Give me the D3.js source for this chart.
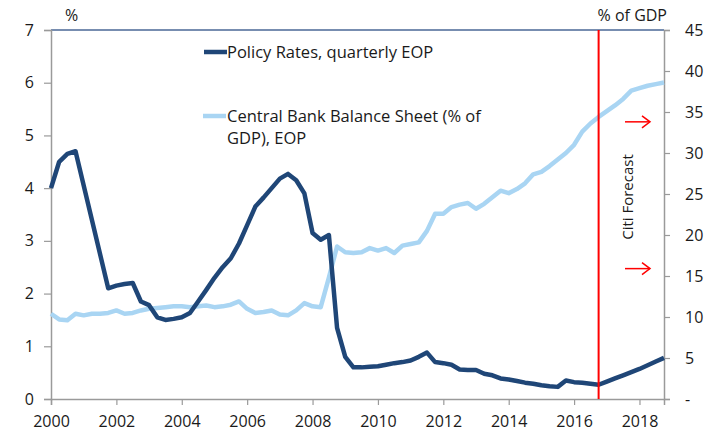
<!DOCTYPE html>
<html>
<head>
<meta charset="utf-8">
<script src="https://cdn.jsdelivr.net/npm/d3@7"></script>
<style>
  html, body { margin: 0; padding: 0; background: #ffffff; }
  svg { display: block; }
  text { font-family: "Open Sans", Lato, sans-serif; fill: #1a1a1a; }
</style>
</head>
<body>
<svg id="chart" width="713" height="434"></svg>
<script>
// Quarterly observations, 2000Q1 .. 2018Q4 (forecast from 2016Q4)
const startYear = 2000;
const quarterCount = 76;

// Policy rate, % (left axis)
const policyRate = [
  4.0, 4.5, 4.65, 4.7, 4.05, 3.4, 2.75, 2.1,
  2.15, 2.18, 2.2, 1.85, 1.78, 1.55, 1.5, 1.52,
  1.55, 1.63, 1.85, 2.07, 2.3, 2.5, 2.67, 2.95,
  3.3, 3.65, 3.82, 4.0, 4.18, 4.27, 4.15, 3.9,
  3.15, 3.02, 3.11, 1.35, 0.8, 0.6, 0.6, 0.61,
  0.62, 0.65, 0.68, 0.7, 0.73, 0.8, 0.88, 0.7,
  0.68, 0.65, 0.56, 0.55, 0.55, 0.48, 0.45, 0.39,
  0.37, 0.34, 0.31, 0.29, 0.26, 0.24, 0.23, 0.35,
  0.32, 0.31, 0.29, 0.27, 0.33, 0.39, 0.45, 0.51,
  0.57, 0.64, 0.71, 0.78
];

// Central bank balance sheet, % of GDP (right axis)
const balanceSheet = [
  10.4, 9.7, 9.6, 10.4, 10.2, 10.4, 10.4, 10.5,
  10.8, 10.4, 10.5, 10.8, 11.0, 11.1, 11.2, 11.3,
  11.3, 11.2, 11.3, 11.4, 11.2, 11.3, 11.5, 11.9,
  11.0, 10.5, 10.6, 10.8, 10.3, 10.2, 10.8, 11.7,
  11.3, 11.2, 14.8, 18.6, 17.9, 17.8, 17.9, 18.4,
  18.1, 18.4, 17.8, 18.7, 18.9, 19.1, 20.5, 22.6,
  22.6, 23.4, 23.7, 23.9, 23.2, 23.8, 24.6, 25.4,
  25.1, 25.6, 26.3, 27.4, 27.7, 28.4, 29.2, 30.0,
  31.0, 32.6, 33.6, 34.4, 35.1, 35.8, 36.6, 37.6,
  37.9, 38.2, 38.4, 38.6
];

const yearTicks = [2000, 2002, 2004, 2006, 2008, 2010, 2012, 2014, 2016, 2018];
const leftTicks = [0, 1, 2, 3, 4, 5, 6, 7];
const rightTicks = [0, 5, 10, 15, 20, 25, 30, 35, 40, 45];
const forecastStart = 67;          // quarter index of 2016Q4
const arrowLevels = [33.8, 15.9];  // right-axis levels of the forecast arrows

const seriesNames = ["Policy Rates, quarterly EOP", "Central Bank Balance Sheet (% of", "GDP), EOP"];

const svg = d3.select("#chart");
const m = { left: 51, right: 664, top: 30, bottom: 399 };

const x = d3.scaleLinear().domain([0, quarterCount - 1]).range([m.left, m.right]);
const yL = d3.scaleLinear().domain([0, 7]).range([m.bottom, m.top]);
const yR = d3.scaleLinear().domain([0, 45]).range([m.bottom, m.top]);

const axisGrey = "#9a9a9a";
const darkBlue = "#1f4677";
const lightBlue = "#a9d5f3";
const font = "'Open Sans', Lato, sans-serif";

// top frame line
svg.append("line")
  .attr("x1", m.left).attr("x2", m.right)
  .attr("y1", m.top).attr("y2", m.top)
  .attr("stroke", "#4a6796").attr("stroke-width", 1.5);

// left axis
const gL = svg.append("g").attr("transform", `translate(${m.left},0)`)
  .call(d3.axisLeft(yL).tickValues(leftTicks).tickSize(7).tickPadding(10).tickFormat(d3.format("d")));
// right axis
const gR = svg.append("g").attr("transform", `translate(${m.right},0)`)
  .call(d3.axisRight(yR).tickValues(rightTicks).tickSize(6).tickPadding(15)
    .tickFormat(d => d === 0 ? "-" : d));
// bottom axis
const gB = svg.append("g").attr("transform", `translate(0,${m.bottom})`)
  .call(d3.axisBottom(x).tickValues(yearTicks.map(yr => (yr - startYear) * 4))
    .tickSize(6).tickPadding(8).tickFormat(i => startYear + i / 4));

[gL, gR, gB].forEach(g => {
  g.selectAll(".domain").attr("stroke", axisGrey).attr("stroke-width", 1.5);
  g.selectAll(".tick line").attr("stroke", axisGrey).attr("stroke-width", 1.2);
  g.selectAll(".tick text").attr("font-size", 16).attr("font-family", font).attr("fill", "#1a1a1a");
});
gB.selectAll(".tick text").attr("dy", "0.85em");
gR.selectAll(".tick text").attr("text-anchor", "start");

// unit labels
svg.append("text").attr("x", 65).attr("y", 21).attr("font-size", 16).text("%");
svg.append("text").attr("x", 667).attr("y", 21).attr("font-size", 16).attr("text-anchor", "end").text("% of GDP");

// series lines
const lineL = d3.line().x((d, i) => x(i)).y(d => yL(d));
const lineR = d3.line().x((d, i) => x(i)).y(d => yR(d));

svg.append("path").datum(balanceSheet)
  .attr("d", lineR).attr("fill", "none")
  .attr("stroke", lightBlue).attr("stroke-width", 4.5).attr("stroke-linejoin", "round");

svg.append("path").datum(policyRate)
  .attr("d", lineL).attr("fill", "none")
  .attr("stroke", darkBlue).attr("stroke-width", 4.5).attr("stroke-linejoin", "round");

// forecast divider
svg.append("line")
  .attr("x1", x(forecastStart)).attr("x2", x(forecastStart))
  .attr("y1", m.top).attr("y2", m.bottom)
  .attr("stroke", "#ff0000").attr("stroke-width", 2);

svg.append("text")
  .attr("transform", `translate(633,197) rotate(-90)`)
  .attr("text-anchor", "middle")
  .attr("font-family", "'Liberation Sans', Arial, sans-serif")
  .attr("font-size", 15).text("Citi Forecast");

// forecast arrows
arrowLevels.forEach(v => {
  const yy = yR(v);
  svg.append("line").attr("x1", 625).attr("x2", 650).attr("y1", yy).attr("y2", yy)
    .attr("stroke", "#ff0000").attr("stroke-width", 1.5);
  svg.append("path").attr("d", `M642,${yy - 6} L650,${yy} L642,${yy + 6}`)
    .attr("fill", "none").attr("stroke", "#ff0000").attr("stroke-width", 1.5);
});

// legend
const legend = svg.append("g");
legend.append("line").attr("x1", 204).attr("x2", 227).attr("y1", 52).attr("y2", 52)
  .attr("stroke", darkBlue).attr("stroke-width", 4.5);
legend.append("text").attr("x", 227).attr("y", 58).attr("font-size", 16.5).text(seriesNames[0]);
legend.append("line").attr("x1", 203).attr("x2", 226).attr("y1", 116).attr("y2", 116)
  .attr("stroke", lightBlue).attr("stroke-width", 4.5);
legend.append("text").attr("x", 227).attr("y", 122).attr("font-size", 16.5).text(seriesNames[1]);
legend.append("text").attr("x", 227).attr("y", 144).attr("font-size", 16.5).text(seriesNames[2]);
</script>
</body>
</html>
